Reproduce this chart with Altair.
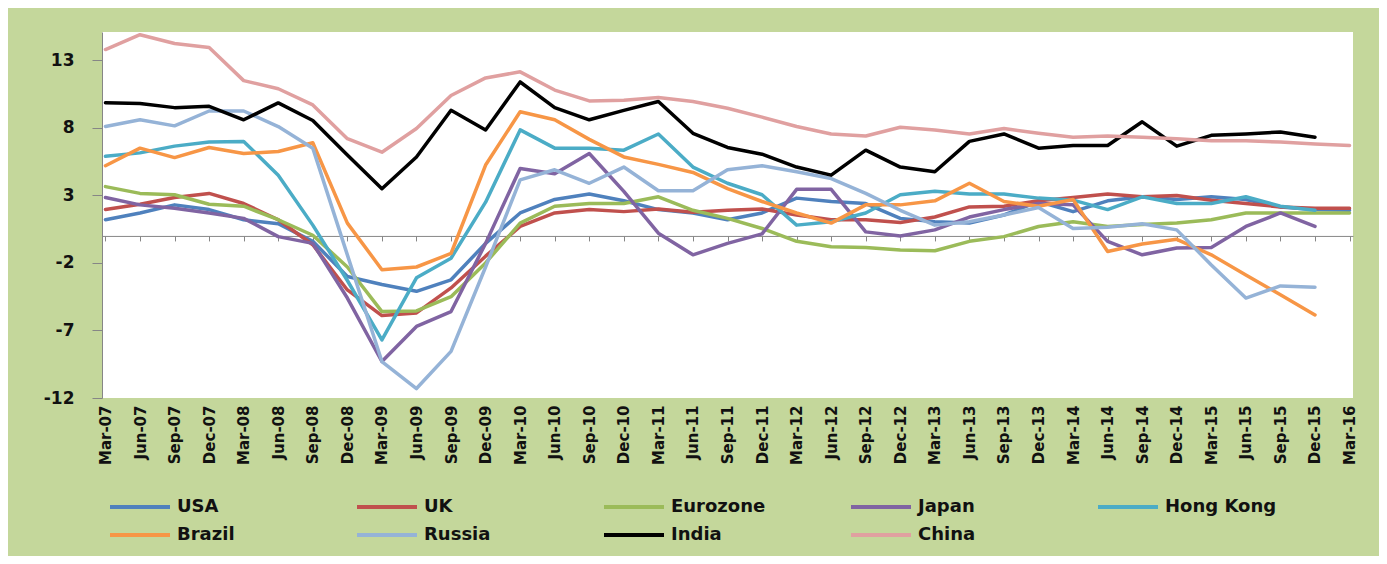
import altair as alt
import pandas as pd

quarters = ["Mar-07", "Jun-07", "Sep-07", "Dec-07", "Mar-08", "Jun-08", "Sep-08", "Dec-08",
            "Mar-09", "Jun-09", "Sep-09", "Dec-09", "Mar-10", "Jun-10", "Sep-10", "Dec-10",
            "Mar-11", "Jun-11", "Sep-11", "Dec-11", "Mar-12", "Jun-12", "Sep-12", "Dec-12",
            "Mar-13", "Jun-13", "Sep-13", "Dec-13", "Mar-14", "Jun-14", "Sep-14", "Dec-14",
            "Mar-15", "Jun-15", "Sep-15", "Dec-15", "Mar-16"]

series = ["USA", "UK", "Eurozone", "Japan", "Hong Kong", "Brazil", "Russia", "India", "China"]
colors = ["#4F81BD", "#C0504D", "#9BBB59", "#8064A2", "#4BACC6", "#F79646", "#95B3D7", "#000000", "#E0A0A0"]

usa = [1.2, 1.7, 2.3, 1.95, 1.2, 0.9, -0.4, -3.0, -3.6, -4.1, -3.25, -0.55, 1.7, 2.7, 3.1, 2.6,
       1.95, 1.7, 1.2, 1.7, 2.8, 2.55, 2.4, 1.3, 1.05, 0.95, 1.55, 2.55, 1.8, 2.6, 2.9, 2.7,
       2.9, 2.7, 2.15, 1.95, 1.9]
uk = [1.95, 2.35, 2.85, 3.15, 2.4, 1.2, -0.65, -4.0, -5.9, -5.7, -3.85, -1.5, 0.7, 1.7, 1.95, 1.8,
      2.0, 1.75, 1.9, 2.0, 1.55, 1.2, 1.2, 1.0, 1.4, 2.15, 2.2, 2.6, 2.85, 3.1, 2.9, 3.0,
      2.65, 2.4, 2.15, 2.05, 2.05]
eurozone = [3.65, 3.15, 3.05, 2.35, 2.2, 1.2, 0.05, -2.3, -5.6, -5.55, -4.5, -2.0, 0.95, 2.2, 2.4, 2.4,
            2.9, 1.9, 1.3, 0.55, -0.4, -0.8, -0.85, -1.05, -1.1, -0.4, -0.05, 0.7, 1.05, 0.7, 0.85, 0.95,
            1.2, 1.7, 1.7, 1.7, 1.7]
japan = [2.85, 2.3, 2.05, 1.7, 1.3, -0.05, -0.55, -4.6, -9.3, -6.7, -5.6, -0.55, 5.0, 4.6, 6.1, 3.3,
         0.2, -1.4, -0.55, 0.15, 3.45, 3.45, 0.3, 0.0, 0.45, 1.4, 1.95, 2.4, 2.3, -0.4, -1.4, -0.9,
         -0.85, 0.7, 1.7, 0.7]
hong_kong = [5.9, 6.15, 6.65, 6.95, 7.0, 4.5, 0.8, -3.3, -7.7, -3.1, -1.65, 2.5, 7.85, 6.5, 6.5, 6.35,
             7.55, 5.1, 3.9, 3.05, 0.8, 1.05, 1.7, 3.05, 3.3, 3.1, 3.1, 2.8, 2.65, 1.95, 2.9, 2.4,
             2.4, 2.9, 2.2, 1.9]
brazil = [5.2, 6.5, 5.8, 6.55, 6.1, 6.25, 6.9, 0.95, -2.5, -2.3, -1.3, 5.25, 9.2, 8.6, 7.15, 5.85,
          5.3, 4.7, 3.5, 2.55, 1.7, 0.95, 2.3, 2.3, 2.6, 3.9, 2.55, 2.2, 2.7, -1.15, -0.6, -0.25,
          -1.4, -2.9, -4.35, -5.85]
russia = [8.1, 8.6, 8.15, 9.25, 9.25, 8.1, 6.5, -1.4, -9.3, -11.3, -8.55, -2.3, 4.15, 4.9, 3.9, 5.1,
          3.35, 3.35, 4.9, 5.2, 4.75, 4.25, 3.15, 1.9, 0.8, 1.05, 1.55, 2.1, 0.55, 0.65, 0.9, 0.45,
          -2.15, -4.6, -3.7, -3.8]
india = [9.86, 9.8, 9.5, 9.6, 8.6, 9.85, 8.55, 6.0, 3.5, 5.85, 9.3, 7.85, 11.4, 9.5, 8.6, 9.3,
         9.95, 7.6, 6.55, 6.05, 5.1, 4.5, 6.35, 5.1, 4.75, 7.0, 7.55, 6.5, 6.7, 6.7, 8.45, 6.65,
         7.45, 7.55, 7.7, 7.3]
china = [13.8, 14.9, 14.25, 13.95, 11.5, 10.9, 9.7, 7.2, 6.2, 7.95, 10.4, 11.7, 12.15, 10.8, 10.0, 10.05,
         10.25, 9.95, 9.45, 8.8, 8.1, 7.55, 7.4, 8.05, 7.85, 7.55, 7.95, 7.6, 7.3, 7.4, 7.3, 7.2,
         7.05, 7.05, 6.95, 6.8, 6.7]

y_ticks = [-12, -7, -2, 3, 8, 13]
y_min, y_max = -12, 15.1

values_by_series = [usa, uk, eurozone, japan, hong_kong, brazil, russia, india, china]
rows = []
for name, vals in zip(series, values_by_series):
    for q, v in zip(quarters, vals):
        rows.append({"Series": name, "Quarter": q, "Value": v})
df = pd.DataFrame(rows)

row1 = series[:5]
row2 = series[5:]
df1 = df[df["Series"].isin(row1)]
df2 = df[df["Series"].isin(row2)]

W, H = 1251, 366
FONT = "DejaVu Sans"
zero_offset = -H * (0 - y_min) / (y_max - y_min)

x_scale = alt.Scale(type="point", padding=0.1)
y_scale = alt.Scale(domain=[y_min, y_max], nice=False, zero=False)


def make_legend(y_pos, col_pad):
    return alt.Legend(title=None, orient="none", legendX=6, legendY=y_pos, columns=5,
                      direction="horizontal", symbolType="stroke", symbolSize=3600,
                      symbolStrokeWidth=4, labelFont=FONT, labelFontSize=18,
                      labelFontWeight="bold", labelColor="#111111", columnPadding=col_pad,
                      gridAlign="all", labelOffset=5)


line_style = dict(strokeWidth=3.5, strokeJoin="round", strokeCap="round")

lines1 = alt.Chart(df1).mark_line(**line_style).encode(
    x=alt.X("Quarter:O", sort=quarters, scale=x_scale,
            axis=alt.Axis(title=None, orient="bottom", labelAngle=-90, domain=False, ticks=False,
                          labelFont=FONT, labelFontSize=15, labelFontWeight="bold", labelColor="#111111",
                          labelPadding=7)),
    y=alt.Y("Value:Q", scale=y_scale,
            axis=alt.Axis(title=None, values=y_ticks, grid=False, domainColor="#868686", tickColor="#868686",
                          tickSize=10, labelFont=FONT, labelFontSize=17, labelFontWeight="bold",
                          labelColor="#111111", labelPadding=18, labelExpr="'' + datum.value")),
    color=alt.Color("Series:N", sort=row1, scale=alt.Scale(domain=row1, range=colors[:5]),
                    legend=make_legend(443, 60)),
)

lines2 = alt.Chart(df2).mark_line(**line_style).encode(
    x=alt.X("Quarter:O", sort=quarters, scale=x_scale, axis=None),
    y=alt.Y("Value:Q", scale=y_scale, axis=None),
    color=alt.Color("Series:N", sort=row2, scale=alt.Scale(domain=row2, range=colors[5:]),
                    legend=make_legend(471, 105)),
)

zero_axis = alt.Chart(pd.DataFrame({"Quarter": quarters})).mark_point(opacity=0).encode(
    x=alt.X("Quarter:O", sort=quarters, scale=x_scale,
            axis=alt.Axis(title=None, orient="bottom", labels=False, domain=True, ticks=True,
                          domainColor="#868686", tickColor="#868686", tickSize=5, offset=zero_offset)),
)

chart = alt.layer(zero_axis, lines1, lines2).resolve_axis(
    x="independent", y="independent"
).resolve_scale(color="independent").resolve_legend(color="independent").properties(
    width=W, height=H, background="#C4D79B",
    padding={"left": 94, "top": 24, "right": 26, "bottom": 158},
    autosize=alt.AutoSizeParams(type="none"),
).configure_view(fill="white", strokeWidth=0)

chart.save("out.html", embed_options={"renderer": "svg", "actions": False})
